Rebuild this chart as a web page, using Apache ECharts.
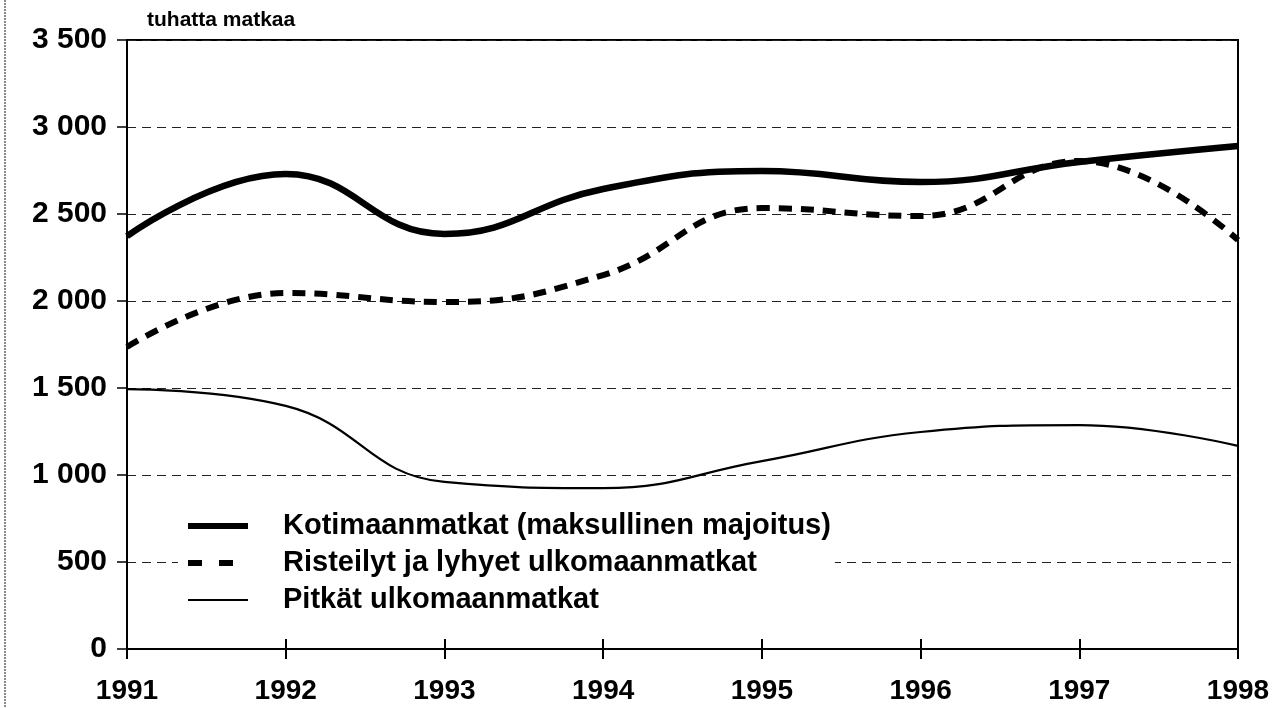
<!DOCTYPE html>
<html>
<head>
<meta charset="utf-8">
<script src="https://cdn.jsdelivr.net/npm/echarts@6/dist/echarts.min.js"></script>
<style>
html,body{margin:0;padding:0;background:#fff;}
#chart{width:1277px;height:708px;}
</style>
</head>
<body>
<div id="chart"></div>
<script>
var categories = ['1991','1992','1993','1994','1995','1996','1997','1998'];
var kotimaan = [2373, 2730, 2385, 2644, 2747, 2684, 2799, 2891];
var risteilyt = [1736, 2046, 1994, 2149, 2534, 2488, 2805, 2350];
var pitkat = [1494, 1397, 960, 925, 1080, 1247, 1287, 1167];
var yTickLabels = ['0', '500', '1 000', '1 500', '2 000', '2 500', '3 000', '3 500'];
var seriesNames = ['Kotimaanmatkat (maksullinen majoitus)', 'Risteilyt ja lyhyet ulkomaanmatkat', 'Pitkät ulkomaanmatkat'];
var unitLabel = 'tuhatta matkaa';

var FONT = '"Liberation Sans", Arial, Helvetica, sans-serif';
var chart = echarts.init(document.getElementById('chart'), null, {renderer: 'canvas'});

chart.setOption({
  animation: false,
  backgroundColor: '#fff',
  title: {
    text: unitLabel,
    left: 142,
    top: 5,
    textStyle: {fontFamily: FONT, fontWeight: 'bold', fontSize: 21, color: '#000'}
  },
  grid: {
    left: 127, right: 39, top: 40, bottom: 59,
    show: true, borderColor: '#000', borderWidth: 2, backgroundColor: 'transparent'
  },
  legend: {
    orient: 'vertical',
    left: 178,
    top: 506,
    padding: [4, 4, 4, 7],
    backgroundColor: '#fff',
    itemWidth: 60,
    itemHeight: 14,
    itemGap: 5,
    selectedMode: false,
    itemStyle: {color: 'rgba(0,0,0,0)', borderColor: 'rgba(0,0,0,0)', borderWidth: 0},
    textStyle: {fontFamily: FONT, fontWeight: 'bold', fontSize: 29, color: '#000', lineHeight: 32, padding: [0, 0, 0, 30]},
    data: [
      {name: seriesNames[0], lineStyle: {width: 6, type: 'solid', color: '#000'}},
      {name: seriesNames[1], lineStyle: {width: 6, type: [14, 17], cap: 'butt', color: '#000'}},
      {name: seriesNames[2], lineStyle: {width: 2, type: 'solid', color: '#000'}}
    ],
    z: 10
  },
  xAxis: [{
    type: 'category',
    data: categories,
    boundaryGap: false,
    axisLine: {show: true, lineStyle: {color: '#000', width: 2}},
    axisTick: {show: true, inside: false, length: 10, lineStyle: {color: '#000', width: 2}},
    axisLabel: {fontFamily: FONT, fontWeight: 'bold', fontSize: 28, color: '#000', margin: 28},
    splitLine: {show: false}
  }, {
    type: 'category',
    data: categories,
    boundaryGap: false,
    position: 'bottom',
    axisLine: {show: false},
    axisTick: {show: true, inside: true, length: 10, lineStyle: {color: '#000', width: 2}},
    axisLabel: {show: false},
    splitLine: {show: false}
  }],
  yAxis: {
    type: 'value',
    min: 0, max: 3500, interval: 500,
    axisLine: {show: true, lineStyle: {color: '#000', width: 2}},
    axisTick: {show: true, length: 10, lineStyle: {color: '#000', width: 1.5}},
    axisLabel: {
      fontFamily: FONT, fontWeight: 'bold', fontSize: 30, color: '#000', margin: 20,
      formatter: function (v) { return yTickLabels[Math.round(v / 500)]; }
    },
    splitLine: {show: true, lineStyle: {color: '#222', width: 1, type: [9, 6]}}
  },
  series: [{
    name: seriesNames[0], type: 'line', data: kotimaan, smooth: 0.45,
    symbol: 'none', lineStyle: {color: '#000', width: 6.5}, z: 3
  }, {
    name: seriesNames[1], type: 'line', data: risteilyt, smooth: 0.45,
    symbol: 'none', lineStyle: {color: '#000', width: 6, type: [13, 9], cap: 'butt'}, z: 2
  }, {
    name: seriesNames[2], type: 'line', data: pitkat, smooth: 0.45,
    symbol: 'none', lineStyle: {color: '#000', width: 2.2}, z: 2
  }],
  graphic: [{
    type: 'line', shape: {x1: 5, y1: 0, x2: 5, y2: 708},
    style: {stroke: '#666', lineWidth: 1.5, lineDash: [2, 1]}
  }]
});
</script>
</body>
</html>
